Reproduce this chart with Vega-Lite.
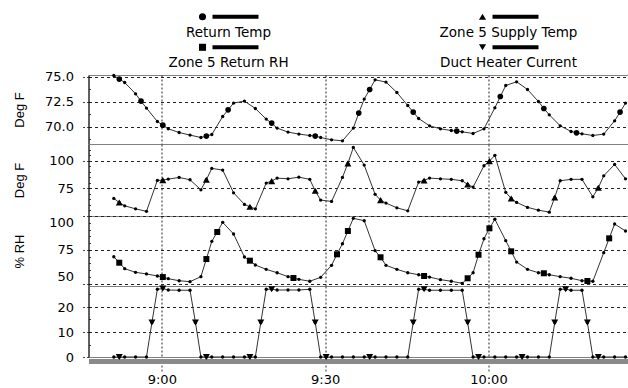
{
  "$schema": "https://vega.github.io/schema/vega-lite/v6.json",
  "background": "white",
  "padding": {"left": 12.5, "top": 0, "right": 0, "bottom": 0},
  "bounds": "flush",
  "spacing": 0,
  "config": {
    "font": "DejaVu Sans",
    "view": {"stroke": "#808080", "strokeWidth": 1},
    "axis": {
      "labelFont": "DejaVu Sans", "labelFontSize": 13, "labelColor": "black",
      "titleFont": "Liberation Sans", "titleFontSize": 13, "titleFontWeight": "normal", "titleColor": "black",
      "domainColor": "black", "tickColor": "#444", "tickDash": [2, 2],
      "gridColor": "#222", "gridDash": [3, 3]
    }
  },
  "datasets": {
    "leg": [
      {"label": "Return Temp", "col": 1, "row": 1},
      {"label": "Zone 5 Return RH", "col": 1, "row": 2},
      {"label": "Zone 5 Supply Temp", "col": 2, "row": 1},
      {"label": "Duct Heater Current", "col": 2, "row": 2}
    ],
    "d": [
      {"t": "2020-01-01T08:51:11", "rt": 75.1, "st": 65.9, "rh": 69.9, "dh": 0},
      {"t": "2020-01-01T08:52:11", "rt": 74.74, "st": 62.3, "rh": 65.5, "dh": 0},
      {"t": "2020-01-01T08:53:11", "rt": 74.4, "st": 59.2, "rh": 61.1, "dh": 0},
      {"t": "2020-01-01T08:55:11", "rt": 73.27, "st": 56.5, "rh": 58.4, "dh": 0},
      {"t": "2020-01-01T08:56:11", "rt": 72.54},
      {"t": "2020-01-01T08:57:11", "rt": 71.84, "st": 54.2, "rh": 57.2, "dh": 0},
      {"t": "2020-01-01T08:58:11", "dh": 13.8},
      {"t": "2020-01-01T08:59:11", "rt": 70.5, "st": 82.2, "rh": 55.7, "dh": 27.1},
      {"t": "2020-01-01T09:00:11", "rt": 70.13, "st": 82.5, "rh": 54.9, "dh": 27.4},
      {"t": "2020-01-01T09:01:11", "rt": 69.77, "st": 83.4, "rh": 53.7, "dh": 26.8},
      {"t": "2020-01-01T09:03:11", "rt": 69.4, "st": 84.9, "rh": 52.2, "dh": 26.7},
      {"t": "2020-01-01T09:05:11", "rt": 69.14, "st": 82.8, "rh": 51.5, "dh": 26.7},
      {"t": "2020-01-01T09:06:11", "dh": 13.8},
      {"t": "2020-01-01T09:07:11", "rt": 68.9, "st": 73.7, "rh": 55.2, "dh": 0},
      {"t": "2020-01-01T09:08:11", "rt": 69.04, "st": 82.8, "rh": 68.2, "dh": 0},
      {"t": "2020-01-01T09:09:11", "rt": 69.2, "st": 93.1, "rh": 81.3, "dh": 0},
      {"t": "2020-01-01T09:10:11", "rh": 88.2},
      {"t": "2020-01-01T09:11:11", "rt": 71.0, "st": 91.6, "rh": 95.3, "dh": 0},
      {"t": "2020-01-01T09:12:11", "rt": 71.67},
      {"t": "2020-01-01T09:13:11", "rt": 72.34, "st": 71.0, "rh": 86.7, "dh": 0},
      {"t": "2020-01-01T09:15:11", "rt": 72.54, "st": 60.5, "rh": 69.7, "dh": 0},
      {"t": "2020-01-01T09:16:11", "st": 58.3, "rh": 67.0, "dh": 0},
      {"t": "2020-01-01T09:17:11", "rt": 71.8, "st": 56.5, "rh": 63.8, "dh": 0},
      {"t": "2020-01-01T09:18:11", "dh": 13.8},
      {"t": "2020-01-01T09:19:11", "rt": 70.74, "st": 79.8, "rh": 60.6, "dh": 27.1},
      {"t": "2020-01-01T09:20:11", "rt": 70.34, "st": 81.6, "dh": 27.1},
      {"t": "2020-01-01T09:21:11", "rt": 69.84, "st": 84.3, "rh": 58.1, "dh": 26.8},
      {"t": "2020-01-01T09:23:11", "rt": 69.44, "st": 83.7, "rh": 55.2, "dh": 26.8},
      {"t": "2020-01-01T09:24:11", "rh": 54.2},
      {"t": "2020-01-01T09:25:11", "rt": 69.24, "st": 85.2, "rh": 53.2, "dh": 26.8},
      {"t": "2020-01-01T09:27:11", "rt": 69.1, "st": 83.2, "rh": 51.8, "dh": 27.1},
      {"t": "2020-01-01T09:28:11", "rt": 69.04, "st": 72.8, "dh": 13.8},
      {"t": "2020-01-01T09:29:11", "rt": 68.9, "st": 64.4, "rh": 54.7, "dh": 0},
      {"t": "2020-01-01T09:30:11", "dh": 0},
      {"t": "2020-01-01T09:31:11", "rt": 68.67, "st": 63.2, "rh": 63.6, "dh": 0},
      {"t": "2020-01-01T09:32:11", "rh": 71.7},
      {"t": "2020-01-01T09:33:11", "rt": 68.57, "st": 84.9, "rh": 79.5, "dh": 0},
      {"t": "2020-01-01T09:34:11", "st": 97.6, "rh": 88.9},
      {"t": "2020-01-01T09:35:11", "rt": 69.84, "st": 112.1, "rh": 98.3, "dh": 0},
      {"t": "2020-01-01T09:36:11", "rt": 71.34},
      {"t": "2020-01-01T09:37:11", "rt": 72.74, "st": 96.1, "rh": 96.5, "dh": 0},
      {"t": "2020-01-01T09:38:11", "rt": 73.7, "dh": 0},
      {"t": "2020-01-01T09:39:11", "rt": 74.67, "st": 69.6, "rh": 74.4, "dh": 0},
      {"t": "2020-01-01T09:40:11", "st": 64.4, "rh": 69.5},
      {"t": "2020-01-01T09:41:11", "rt": 74.44, "st": 61.7, "rh": 63.6, "dh": 0},
      {"t": "2020-01-01T09:43:11", "rt": 73.4, "st": 57.4, "rh": 60.6, "dh": 0},
      {"t": "2020-01-01T09:45:11", "rt": 72.1, "st": 54.7, "rh": 58.1, "dh": 0},
      {"t": "2020-01-01T09:46:11", "rt": 71.44, "dh": 13.8},
      {"t": "2020-01-01T09:47:11", "rt": 70.8, "st": 80.7, "rh": 56.6, "dh": 27.1},
      {"t": "2020-01-01T09:48:11", "st": 82.2, "rh": 55.7, "dh": 27.1},
      {"t": "2020-01-01T09:49:11", "rt": 70.07, "st": 84.3, "rh": 54.9, "dh": 26.7},
      {"t": "2020-01-01T09:51:11", "rt": 69.77, "st": 83.7, "rh": 53.0, "dh": 26.7},
      {"t": "2020-01-01T09:53:11", "rt": 69.6, "st": 83.2, "rh": 51.8, "dh": 26.7},
      {"t": "2020-01-01T09:54:11", "rt": 69.54},
      {"t": "2020-01-01T09:55:11", "rt": 69.47, "st": 81.9, "rh": 50.3, "dh": 26.7},
      {"t": "2020-01-01T09:56:11", "st": 78.6, "rh": 54.0, "dh": 13.8},
      {"t": "2020-01-01T09:57:11", "rt": 69.3, "st": 76.2, "rh": 58.1, "dh": 0},
      {"t": "2020-01-01T09:58:11", "rh": 71.4, "dh": 0},
      {"t": "2020-01-01T09:59:11", "rt": 69.77, "st": 95.5, "rh": 83.2, "dh": 0},
      {"t": "2020-01-01T10:00:11", "st": 99.7, "rh": 90.9},
      {"t": "2020-01-01T10:01:11", "rt": 71.87, "st": 104.9, "rh": 97.6, "dh": 0},
      {"t": "2020-01-01T10:02:11", "rt": 73.0},
      {"t": "2020-01-01T10:03:11", "rt": 74.1, "st": 71.4, "rh": 81.8, "dh": 0},
      {"t": "2020-01-01T10:04:11", "st": 65.9, "rh": 73.9},
      {"t": "2020-01-01T10:05:11", "rt": 74.47, "st": 62.3, "rh": 66.0, "dh": 0},
      {"t": "2020-01-01T10:06:11", "dh": 0},
      {"t": "2020-01-01T10:07:11", "rt": 73.7, "st": 57.8, "rh": 60.6, "dh": 0},
      {"t": "2020-01-01T10:09:11", "rt": 72.5, "st": 55.3, "rh": 58.1, "dh": 0},
      {"t": "2020-01-01T10:10:11", "rt": 71.8, "rh": 57.7},
      {"t": "2020-01-01T10:11:11", "rt": 71.17, "st": 53.5, "rh": 56.6, "dh": 0},
      {"t": "2020-01-01T10:12:11", "st": 66.8, "dh": 13.8},
      {"t": "2020-01-01T10:13:11", "rt": 70.07, "st": 81.9, "rh": 55.2, "dh": 27.1},
      {"t": "2020-01-01T10:14:11", "dh": 27.1},
      {"t": "2020-01-01T10:15:11", "rt": 69.5, "st": 83.2, "rh": 54.0, "dh": 26.7},
      {"t": "2020-01-01T10:16:11", "rt": 69.37},
      {"t": "2020-01-01T10:17:11", "rt": 69.27, "st": 83.2, "rh": 52.2, "dh": 26.7},
      {"t": "2020-01-01T10:18:11", "rh": 52.0, "dh": 13.8},
      {"t": "2020-01-01T10:19:11", "rt": 69.1, "st": 67.4, "rh": 51.8, "dh": 0},
      {"t": "2020-01-01T10:20:11", "st": 75.5, "dh": 0},
      {"t": "2020-01-01T10:21:11", "rt": 69.24, "st": 86.4, "rh": 72.9, "dh": 0},
      {"t": "2020-01-01T10:22:11", "rh": 83.5},
      {"t": "2020-01-01T10:23:11", "rt": 70.57, "st": 96.7, "rh": 94.1, "dh": 0},
      {"t": "2020-01-01T10:24:11", "rt": 71.44},
      {"t": "2020-01-01T10:25:11", "rt": 72.34, "st": 83.7, "rh": 88.9, "dh": 0}
    ],
    "m": [
      {"t": "2020-01-01T08:52:11", "rt": 74.74, "st": 62.3, "rh": 65.5, "dh": 0},
      {"t": "2020-01-01T08:56:11", "rt": 72.54},
      {"t": "2020-01-01T08:58:11", "dh": 13.8},
      {"t": "2020-01-01T09:00:11", "rt": 70.13, "st": 82.5, "rh": 54.9, "dh": 27.4},
      {"t": "2020-01-01T09:06:11", "dh": 13.8},
      {"t": "2020-01-01T09:08:11", "rt": 69.04, "st": 82.8, "rh": 68.2, "dh": 0},
      {"t": "2020-01-01T09:10:11", "rh": 88.2},
      {"t": "2020-01-01T09:12:11", "rt": 71.67},
      {"t": "2020-01-01T09:16:11", "st": 58.3, "rh": 67.0, "dh": 0},
      {"t": "2020-01-01T09:18:11", "dh": 13.8},
      {"t": "2020-01-01T09:20:11", "rt": 70.34, "st": 81.6, "dh": 27.1},
      {"t": "2020-01-01T09:24:11", "rh": 54.2},
      {"t": "2020-01-01T09:28:11", "rt": 69.04, "st": 72.8, "dh": 13.8},
      {"t": "2020-01-01T09:30:11", "dh": 0},
      {"t": "2020-01-01T09:32:11", "rh": 71.7},
      {"t": "2020-01-01T09:34:11", "st": 97.6, "rh": 88.9},
      {"t": "2020-01-01T09:36:11", "rt": 71.34},
      {"t": "2020-01-01T09:38:11", "rt": 73.7, "dh": 0},
      {"t": "2020-01-01T09:40:11", "st": 64.4, "rh": 69.5},
      {"t": "2020-01-01T09:46:11", "rt": 71.44, "dh": 13.8},
      {"t": "2020-01-01T09:48:11", "st": 82.2, "rh": 55.7, "dh": 27.1},
      {"t": "2020-01-01T09:54:11", "rt": 69.54},
      {"t": "2020-01-01T09:56:11", "st": 78.6, "rh": 54.0, "dh": 13.8},
      {"t": "2020-01-01T09:58:11", "rh": 71.4, "dh": 0},
      {"t": "2020-01-01T10:00:11", "st": 99.7, "rh": 90.9},
      {"t": "2020-01-01T10:02:11", "rt": 73.0},
      {"t": "2020-01-01T10:04:11", "st": 65.9, "rh": 73.9},
      {"t": "2020-01-01T10:06:11", "dh": 0},
      {"t": "2020-01-01T10:10:11", "rt": 71.8, "rh": 57.7},
      {"t": "2020-01-01T10:12:11", "st": 66.8, "dh": 13.8},
      {"t": "2020-01-01T10:14:11", "dh": 27.1},
      {"t": "2020-01-01T10:16:11", "rt": 69.37},
      {"t": "2020-01-01T10:18:11", "rh": 52.0, "dh": 13.8},
      {"t": "2020-01-01T10:20:11", "st": 75.5, "dh": 0},
      {"t": "2020-01-01T10:22:11", "rh": 83.5},
      {"t": "2020-01-01T10:24:11", "rt": 71.44}
    ]
  },
  "vconcat": [
    {
      "width": 541, "height": 75,
      "view": {"stroke": null, "fill": "white"},
      "data": {"name": "leg"},
      "encoding": {
        "x": {"field": "col", "type": "quantitative", "scale": {"domain": [0.5, 2.4321], "nice": false, "zero": false}, "axis": null},
        "y": {"field": "row", "type": "quantitative", "scale": {"domain": [-0.075, 2.384], "reverse": true, "nice": false, "zero": false}, "axis": null}
      },
      "layer": [
        {"mark": {"type": "text", "font": "DejaVu Sans", "fontSize": 13.5, "baseline": "middle", "align": "center", "color": "black"}, "encoding": {"text": {"field": "label"}}},
        {"mark": {"type": "point", "filled": true, "opacity": 1, "color": "black", "size": 50, "xOffset": -26, "yOffset": -16},
         "encoding": {"shape": {"field": "label", "type": "nominal", "scale": {"domain": ["Return Temp", "Zone 5 Return RH", "Zone 5 Supply Temp", "Duct Heater Current"], "range": ["circle", "square", "triangle-up", "triangle-down"]}, "legend": null}}},
        {"mark": {"type": "rule", "color": "black", "strokeWidth": 4, "xOffset": -16, "x2Offset": 30, "yOffset": -16}, "encoding": {"x2": {"field": "col"}}}
      ]
    },
    {
      "width": 541, "height": 69,
      "data": {"name": "d"},
      "encoding": {
        "x": {"field": "t", "type": "temporal", "scale": {"domain": [{"year": 2020, "month": 1, "date": 1, "hours": 8, "minutes": 46, "seconds": 32}, {"year": 2020, "month": 1, "date": 1, "hours": 10, "minutes": 25, "seconds": 55}], "nice": false},
              "axis": {"labels": false, "ticks": false, "domain": false, "title": null, "grid": true, "gridDash": [2, 2], "values": [{"year": 2020, "month": 1, "date": 1, "hours": 9, "minutes": 0}, {"year": 2020, "month": 1, "date": 1, "hours": 9, "minutes": 30}, {"year": 2020, "month": 1, "date": 1, "hours": 10, "minutes": 0}]}},
        "y": {"field": "rt", "type": "quantitative", "scale": {"domain": [68.25, 75.15], "nice": false, "zero": false},
              "axis": {"values": [68.75, 70, 71.25, 72.5, 73.75, 75], "labelExpr": "datum.value % 2.5 === 0 ? format(datum.value, '.1f') : ''",
                       "title": "Deg F", "titleX": -69, "titleY": 34.5, "titleAngle": -90, "titleBaseline": "middle", "titleAlign": "center",
                       "grid": true, "gridOpacity": {"condition": {"test": "datum.value % 2.5 === 0", "value": 1}, "value": 0},
                       "tickSize": {"condition": {"test": "datum.value % 2.5 === 0", "value": 6}, "value": -4}, "labelPadding": 9}}
      },
      "layer": [
        {"transform": [{"filter": "isValid(datum.rt)"}], "mark": {"type": "line", "color": "#333", "strokeWidth": 1}},
        {"transform": [{"filter": "isValid(datum.rt)"}], "mark": {"type": "point", "filled": true, "opacity": 1, "color": "black", "size": 11}},
        {"data": {"name": "m"}, "transform": [{"filter": "isValid(datum.rt)"}], "mark": {"type": "point", "shape": "circle", "filled": true, "opacity": 1, "color": "black", "size": 32}}
      ]
    },
    {
      "width": 541, "height": 72,
      "data": {"name": "d"},
      "encoding": {
        "x": {"field": "t", "type": "temporal", "scale": {"domain": [{"year": 2020, "month": 1, "date": 1, "hours": 8, "minutes": 46, "seconds": 32}, {"year": 2020, "month": 1, "date": 1, "hours": 10, "minutes": 25, "seconds": 55}], "nice": false},
              "axis": {"labels": false, "ticks": false, "domain": false, "title": null, "grid": true, "gridDash": [2, 2], "values": [{"year": 2020, "month": 1, "date": 1, "hours": 9, "minutes": 0}, {"year": 2020, "month": 1, "date": 1, "hours": 9, "minutes": 30}, {"year": 2020, "month": 1, "date": 1, "hours": 10, "minutes": 0}]}},
        "y": {"field": "st", "type": "quantitative", "scale": {"domain": [50, 115.2], "nice": false, "zero": false},
              "axis": {"values": [55, 60, 65, 70, 75, 80, 85, 90, 95, 100, 105, 110], "labelExpr": "datum.value === 75 || datum.value === 100 ? datum.label : ''",
                       "title": "Deg F", "titleX": -69, "titleY": 36, "titleAngle": -90, "titleBaseline": "middle", "titleAlign": "center",
                       "grid": true, "gridOpacity": {"condition": {"test": "datum.value === 75 || datum.value === 100", "value": 1}, "value": 0},
                       "tickSize": {"condition": {"test": "datum.value === 75 || datum.value === 100", "value": 6}, "value": -4}, "labelPadding": 9}}
      },
      "layer": [
        {"transform": [{"filter": "isValid(datum.st)"}], "mark": {"type": "line", "color": "#333", "strokeWidth": 1}},
        {"transform": [{"filter": "isValid(datum.st)"}], "mark": {"type": "point", "filled": true, "opacity": 1, "color": "black", "size": 11}},
        {"data": {"name": "m"}, "transform": [{"filter": "isValid(datum.st)"}], "mark": {"type": "point", "shape": "triangle-up", "filled": true, "opacity": 1, "color": "black", "size": 49}}
      ]
    },
    {
      "width": 541, "height": 70,
      "data": {"name": "d"},
      "encoding": {
        "x": {"field": "t", "type": "temporal", "scale": {"domain": [{"year": 2020, "month": 1, "date": 1, "hours": 8, "minutes": 46, "seconds": 32}, {"year": 2020, "month": 1, "date": 1, "hours": 10, "minutes": 25, "seconds": 55}], "nice": false},
              "axis": {"labels": false, "ticks": false, "domain": false, "title": null, "grid": true, "gridDash": [2, 2], "values": [{"year": 2020, "month": 1, "date": 1, "hours": 9, "minutes": 0}, {"year": 2020, "month": 1, "date": 1, "hours": 9, "minutes": 30}, {"year": 2020, "month": 1, "date": 1, "hours": 10, "minutes": 0}]}},
        "y": {"field": "rh", "type": "quantitative", "scale": {"domain": [48.3, 100], "nice": false, "zero": false},
              "axis": {"values": [50, 55, 60, 65, 70, 75, 80, 85, 90, 95, 100], "labelExpr": "datum.value % 25 === 0 ? datum.label : ''", "labelFlush": 3,
                       "title": "% RH", "titleX": -69, "titleY": 35, "titleAngle": -90, "titleBaseline": "middle", "titleAlign": "center",
                       "grid": true, "gridOpacity": {"condition": {"test": "datum.value % 25 === 0", "value": 1}, "value": 0},
                       "tickSize": {"condition": {"test": "datum.value % 25 === 0", "value": 6}, "value": -4}, "labelPadding": 9}}
      },
      "layer": [
        {"transform": [{"filter": "isValid(datum.rh)"}], "mark": {"type": "line", "color": "#333", "strokeWidth": 1}},
        {"transform": [{"filter": "isValid(datum.rh)"}], "mark": {"type": "point", "filled": true, "opacity": 1, "color": "black", "size": 11}},
        {"data": {"name": "m"}, "transform": [{"filter": "isValid(datum.rh)"}], "mark": {"type": "point", "shape": "square", "filled": true, "opacity": 1, "color": "black", "size": 36}}
      ]
    },
    {
      "width": 541, "height": 71,
      "data": {"name": "d"},
      "encoding": {
        "x": {"field": "t", "type": "temporal", "scale": {"domain": [{"year": 2020, "month": 1, "date": 1, "hours": 8, "minutes": 46, "seconds": 32}, {"year": 2020, "month": 1, "date": 1, "hours": 10, "minutes": 25, "seconds": 55}], "nice": false},
              "axis": {"format": "%-H:%M", "title": null, "grid": true, "gridDash": [2, 2], "values": [{"year": 2020, "month": 1, "date": 1, "hours": 9, "minutes": 0}, {"year": 2020, "month": 1, "date": 1, "hours": 9, "minutes": 30}, {"year": 2020, "month": 1, "date": 1, "hours": 10, "minutes": 0}],
                       "domain": true, "domainColor": "#8a8a8a", "domainWidth": 5, "offset": 4, "tickSize": 11, "tickColor": "#333", "tickDash": [2, 2], "labelPadding": 1}},
        "y": {"field": "dh", "type": "quantitative", "scale": {"domain": [0, 28.4], "nice": false, "zero": false},
              "axis": {"values": [0, 5, 10, 15, 20, 25], "labelExpr": "datum.value % 10 === 0 ? datum.label : ''", "title": null,
                       "grid": true, "gridOpacity": {"condition": {"test": "datum.value % 10 === 0 && datum.value > 0", "value": 1}, "value": 0},
                       "tickSize": {"condition": {"test": "datum.value % 10 === 0", "value": 6}, "value": -4}, "labelPadding": 9}}
      },
      "layer": [
        {"transform": [{"filter": "isValid(datum.dh)"}], "mark": {"type": "line", "color": "#333", "strokeWidth": 1}},
        {"transform": [{"filter": "isValid(datum.dh)"}], "mark": {"type": "point", "filled": true, "opacity": 1, "color": "black", "size": 11}},
        {"data": {"name": "m"}, "transform": [{"filter": "isValid(datum.dh)"}], "mark": {"type": "point", "shape": "triangle-down", "filled": true, "opacity": 1, "color": "black", "size": 49}}
      ]
    }
  ]
}
